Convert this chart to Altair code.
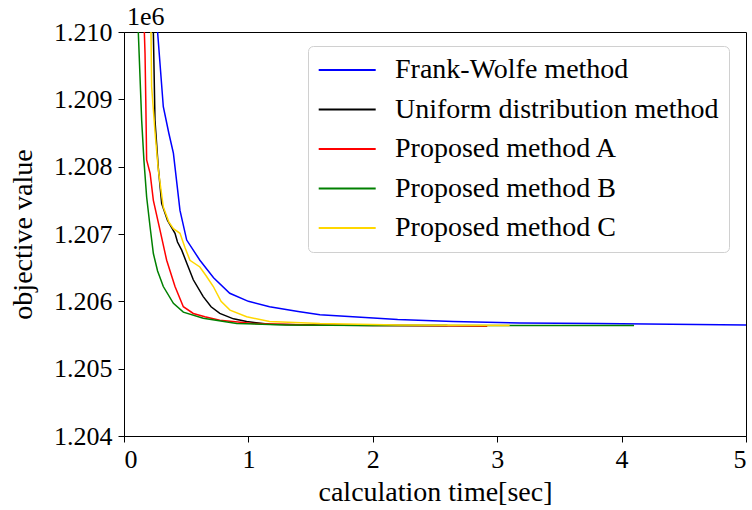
import altair as alt
import pandas as pd

series_names = ["Frank-Wolfe method", "Uniform distribution method",
                "Proposed method A", "Proposed method B", "Proposed method C"]
series_colors = ["#0000ff", "#000000", "#ff0000", "#008000", "#ffd700"]

fw_x = [0.25, 0.27, 0.316, 0.36, 0.397, 0.45, 0.504, 0.61, 0.72, 0.85, 1.0, 1.17, 1.4, 1.575, 1.84, 2.2, 2.645, 3.18, 3.8, 4.4, 5.0]
fw_y = [1.2105, 1.2100, 1.20889, 1.2085, 1.2082, 1.20735, 1.20691, 1.20661, 1.20635, 1.20612, 1.20600, 1.20592, 1.20585, 1.20580, 1.20577, 1.20573, 1.20570, 1.20568, 1.20567, 1.20566, 1.20565]

un_x = [0.22, 0.236, 0.249, 0.275, 0.303, 0.35, 0.41, 0.43, 0.464, 0.504, 0.557, 0.637, 0.7, 0.77, 0.88, 0.986, 1.17, 1.5, 2.0, 2.6]
un_y = [1.2105, 1.2100, 1.20869, 1.2080, 1.20745, 1.2072, 1.20701, 1.20688, 1.20676, 1.20657, 1.20632, 1.20607, 1.20592, 1.20582, 1.20574, 1.20570, 1.20566, 1.20565, 1.20564, 1.20564]

pa_x = [0.155, 0.169, 0.175, 0.182, 0.21, 0.236, 0.289, 0.343, 0.41, 0.477, 0.557, 0.65, 0.77, 1.04, 1.5, 2.2, 2.92]
pa_y = [1.2105, 1.20968, 1.2090, 1.20810, 1.2079, 1.20750, 1.20706, 1.20661, 1.20622, 1.20592, 1.20582, 1.20577, 1.20572, 1.20567, 1.20565, 1.20564, 1.20563]

pb_x = [0.105, 0.115, 0.142, 0.16, 0.182, 0.21, 0.236, 0.27, 0.316, 0.397, 0.477, 0.637, 0.906, 1.3, 2.0, 3.0, 4.1]
pb_y = [1.2105, 1.2100, 1.20869, 1.2081, 1.20755, 1.2071, 1.20671, 1.20645, 1.20622, 1.20597, 1.20584, 1.20575, 1.20567, 1.20565, 1.20564, 1.20564, 1.20564]

pc_x = [0.20, 0.217, 0.222, 0.25, 0.276, 0.316, 0.36, 0.397, 0.45, 0.49, 0.53, 0.61, 0.66, 0.718, 0.78, 0.852, 0.986, 1.17, 1.575, 2.2, 3.1]
pc_y = [1.2105, 1.2100, 1.20919, 1.2085, 1.20795, 1.20740, 1.20718, 1.20708, 1.20701, 1.20680, 1.20661, 1.20651, 1.20638, 1.20622, 1.20600, 1.20587, 1.20577, 1.20570, 1.20567, 1.20565, 1.20564]

x_ticks = [0, 1, 2, 3, 4, 5]
y_ticks = [1.204, 1.205, 1.206, 1.207, 1.208, 1.209, 1.210]

rows = []
for name, xs, ys in zip(series_names, [fw_x, un_x, pa_x, pb_x, pc_x], [fw_y, un_y, pa_y, pb_y, pc_y]):
    for i, (x, y) in enumerate(zip(xs, ys)):
        rows.append({"method": name, "time": x, "value": y, "i": i})
df = pd.DataFrame(rows)

FONT = "Liberation Serif"

lines = alt.Chart(df).mark_line(strokeWidth=1.5, clip=True).encode(
    x=alt.X("time:Q", scale=alt.Scale(domain=[0, 5], nice=False),
            axis=alt.Axis(title="calculation time[sec]", values=x_ticks, format="d")),
    y=alt.Y("value:Q", scale=alt.Scale(domain=[1.204, 1.210], nice=False, zero=False),
            axis=alt.Axis(title="objective value", values=y_ticks, format=".3f")),
    color=alt.Color("method:N", scale=alt.Scale(domain=series_names, range=series_colors),
                    legend=alt.Legend(title=None, orient="none", legendX=184, legendY=14,
                                      symbolType="M-1.4,0H4.6", symbolSize=361, symbolStrokeWidth=1.8,
                                      labelFont=FONT, labelFontSize=28, labelColor="#000",
                                      labelLimit=500, labelOffset=49, rowPadding=11.5, padding=10,
                                      strokeColor="#d0d0d0", fillColor="white", cornerRadius=5)),
    detail="method:N",
    order="i:Q",
)

offset = alt.Chart(pd.DataFrame({"t": ["1e6"]})).mark_text(
    font=FONT, fontSize=26, align="left", baseline="alphabetic", color="#000"
).encode(x=alt.value(3), y=alt.value(-7), text="t:N")

chart = alt.layer(lines, offset).properties(
    width=622, height=404,
    autosize=alt.AutoSizeParams(type="none"),
    padding={"left": 124, "top": 32, "right": 6, "bottom": 74},
).configure_view(stroke="#000", strokeWidth=1).configure_axis(
    labelFont=FONT, labelFontSize=26, labelColor="#000",
    titleFont=FONT, titleFontSize=28, titleColor="#000", titleFontWeight="normal",
    domainColor="#000", tickColor="#000", tickSize=6, grid=False,
).configure_axisY(titlePadding=16, labelPadding=6).configure_axisX(titlePadding=6, labelPadding=4)

chart.save("out.html", embed_options={"renderer": "svg", "actions": False})
